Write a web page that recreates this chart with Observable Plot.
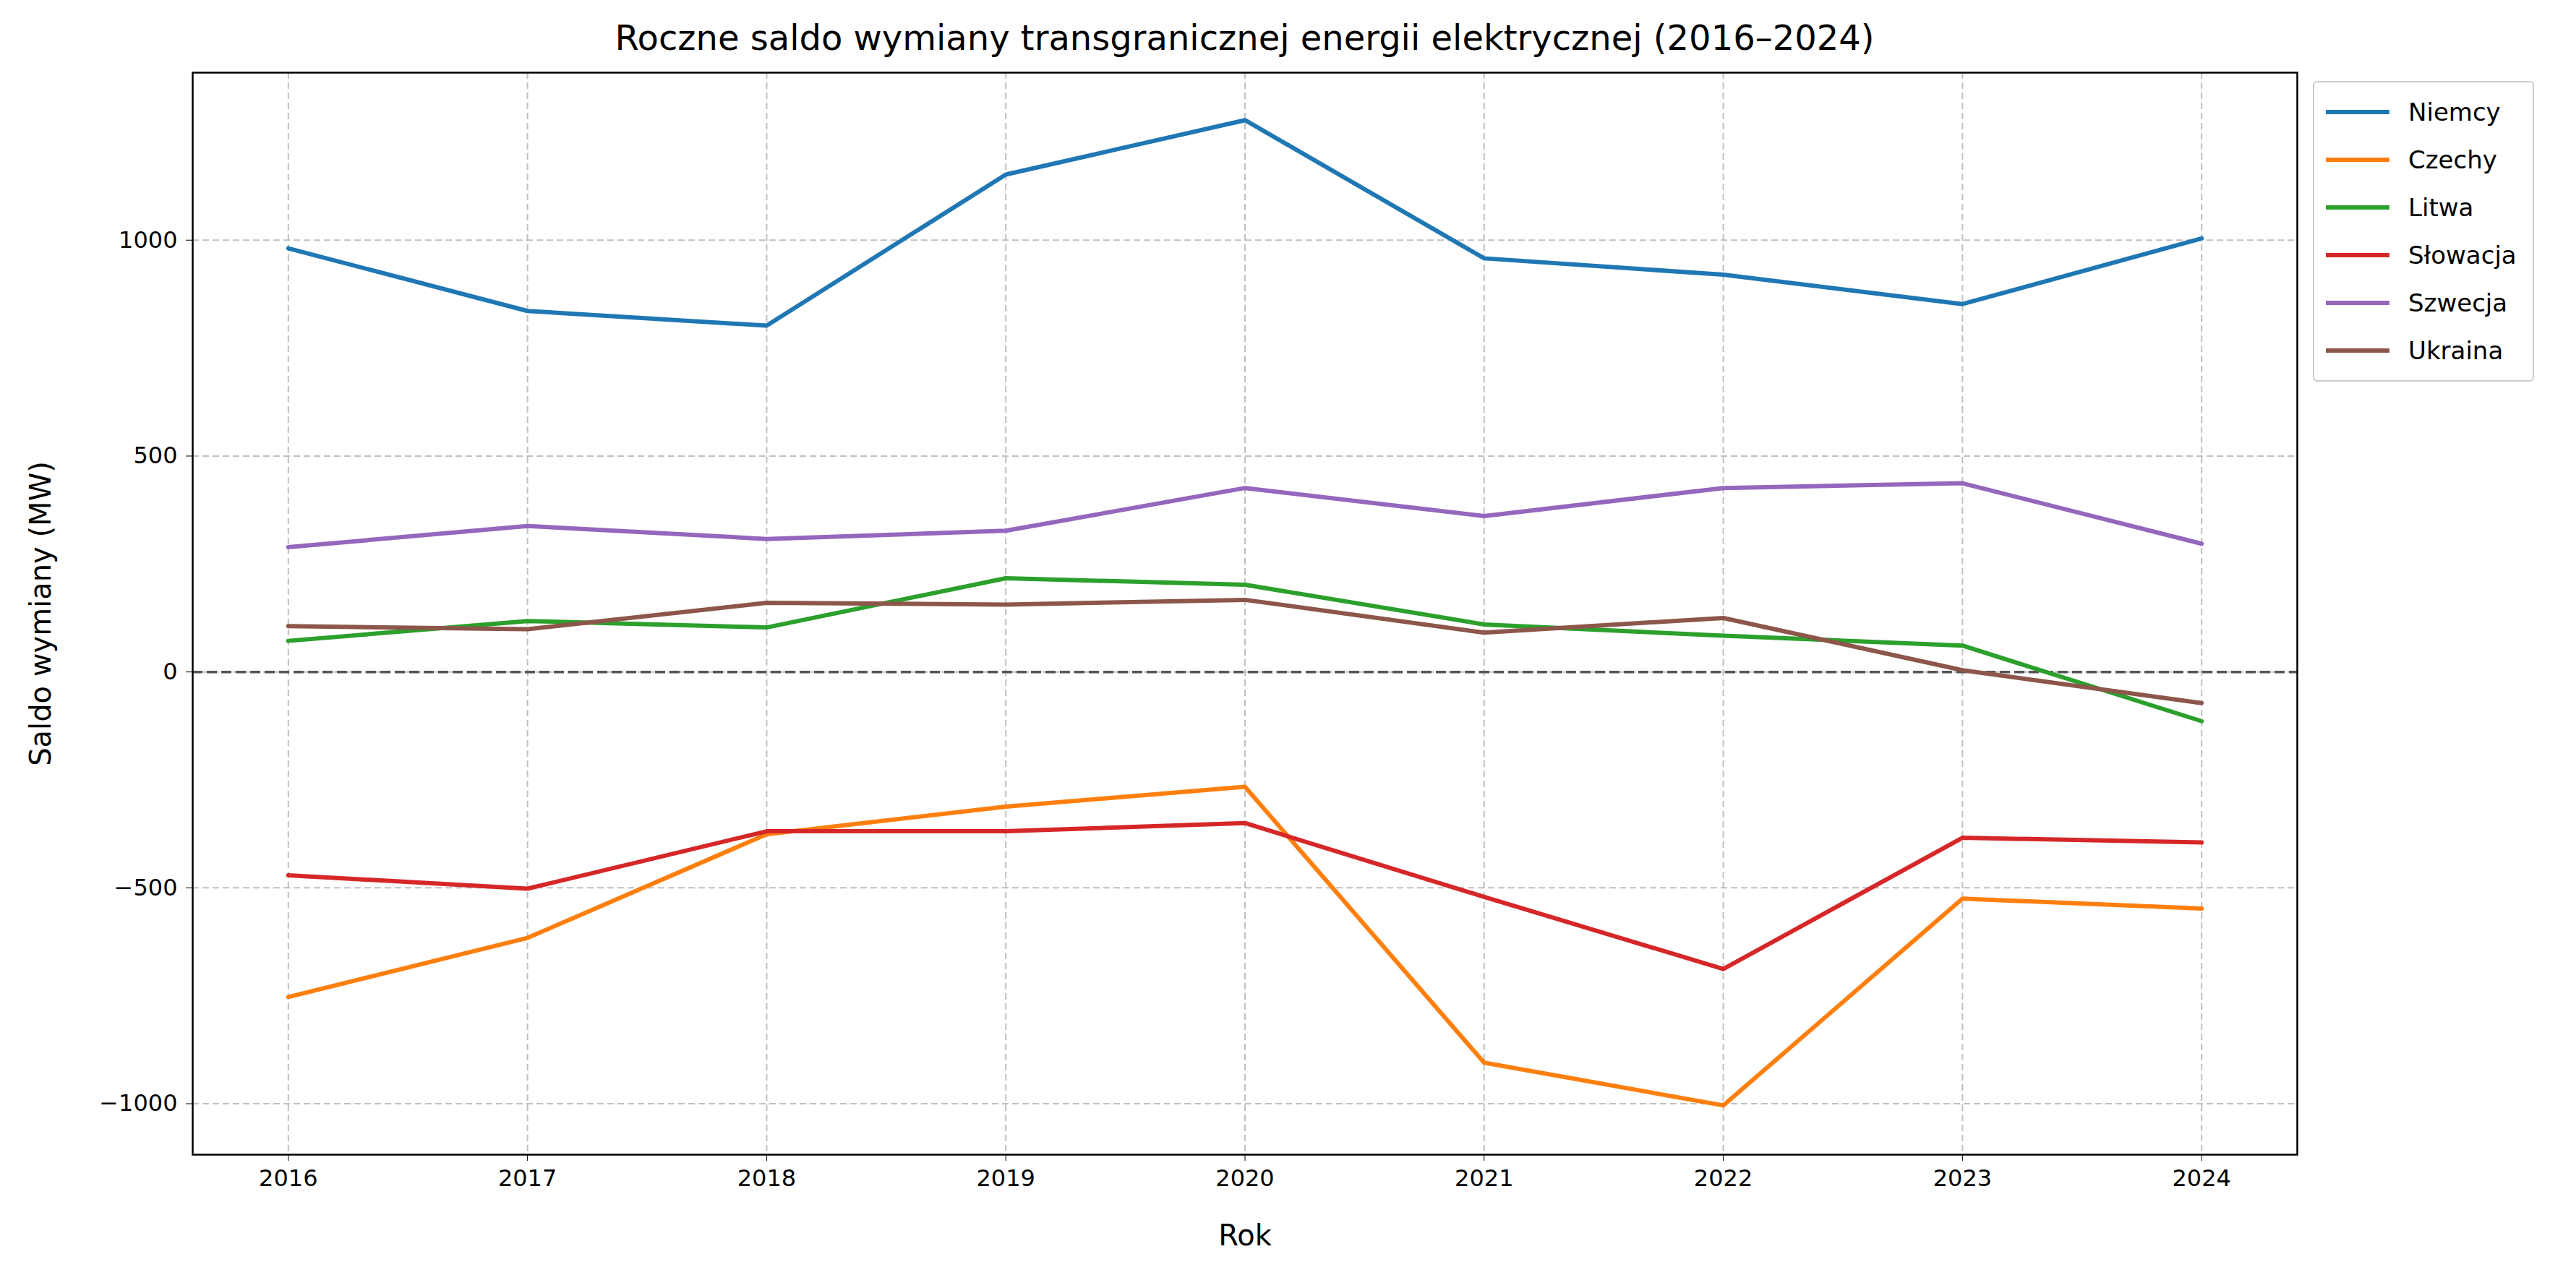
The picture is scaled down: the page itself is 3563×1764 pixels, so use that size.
<!DOCTYPE html>
<html>
<head>
<meta charset="utf-8">
<script src="https://cdn.jsdelivr.net/npm/d3@7"></script>
<script src="https://cdn.jsdelivr.net/npm/@observablehq/plot@0.6"></script>
<style>
  body { margin: 0; background: #fff; font-family: "DejaVu Sans", sans-serif; }
  #wrap { position: relative; width: 3563px; height: 1764px; }
  #title { position: absolute; left: 266px; width: 2911px; top: 24px; text-align: center; font-size: 48px; }
  #legend { position: absolute; left: 3199px; top: 112px; border: 2px solid #ccc; border-radius: 6px; padding: 8px 22px 8px 16px; font-size: 34px; background: #fff; }
  .item { display: flex; align-items: center; height: 66px; }
  .sw { width: 88px; height: 6px; margin-right: 26px; }
  g[aria-label="x-axis label"] text, g[aria-label="y-axis label"] text { font-size: 40px !important; }
  g[aria-label="x-axis tick label"] text, g[aria-label="y-axis tick label"] text { font-size: 32px !important; }
</style>
</head>
<body>
<div id="wrap">
  <div id="chart" style="position:absolute;left:0;top:0"></div>
  <div id="title">Roczne saldo wymiany transgranicznej energii elektrycznej (2016–2024)</div>
  <div id="legend"></div>
</div>
<script>
// lata i kraje
const years = [2016, 2017, 2018, 2019, 2020, 2021, 2022, 2023, 2024];
const countries = ["Niemcy", "Czechy", "Litwa", "Słowacja", "Szwecja", "Ukraina"];
const colors = ["#1f77b4", "#ff7f0e", "#2ca02c", "#d62728", "#9467bd", "#8c564b"];

// saldo w MW
const niemcy   = [981, 836, 802, 1152, 1278, 958, 920, 852, 1004];
const czechy   = [-753, -616, -376, -312, -266, -905, -1004, -525, -548];
const litwa    = [72, 118, 103, 217, 202, 110, 84, 61, -114];
const slowacja = [-471, -502, -369, -369, -350, -521, -688, -384, -395];
const szwecja  = [289, 338, 308, 327, 426, 361, 426, 437, 297];
const ukraina  = [106, 99, 160, 156, 167, 91, 125, 4, -72];

const series = [niemcy, czechy, litwa, slowacja, szwecja, ukraina];
const data = series.flatMap((vals, i) => vals.map((v, j) => ({kraj: countries[i], rok: years[j], mw: v})));
const yTicks = [-1000, -500, 0, 500, 1000];
const fmtY = d => d < 0 ? "−" + Math.abs(d) : String(d);

const chart = Plot.plot({
  width: 3563,
  height: 1764,
  marginLeft: 266,
  marginRight: 386,
  marginTop: 100,
  marginBottom: 167,
  style: {fontFamily: "DejaVu Sans, sans-serif", fontSize: "32px", color: "#000"},
  x: {domain: [2015.6, 2024.4]},
  y: {domain: [-1118, 1388]},
  color: {domain: countries, range: colors},
  marks: [
    Plot.gridX(years, {stroke: "#b0b0b0", strokeOpacity: 0.8, strokeWidth: 2, strokeDasharray: "9,5"}),
    Plot.gridY(yTicks, {stroke: "#b0b0b0", strokeOpacity: 0.8, strokeWidth: 2, strokeDasharray: "9,5"}),
    Plot.ruleY([0], {stroke: "#555", strokeWidth: 3.5, strokeDasharray: "14,6"}),
    Plot.line(data, {x: "rok", y: "mw", z: "kraj", stroke: "kraj", strokeWidth: 6}),
    Plot.frame({stroke: "#000", strokeWidth: 2.5}),
    Plot.axisX({ticks: years, tickFormat: d => String(d), tickSize: 9, tickPadding: 12, label: "Rok", labelAnchor: "center", labelArrow: "none", labelOffset: 125}),
    Plot.axisY({ticks: yTicks, tickFormat: fmtY, tickSize: 9, tickPadding: 12, label: "Saldo wymiany (MW)", labelAnchor: "center", labelArrow: "none", labelOffset: 225})
  ]
});
document.getElementById("chart").append(chart);

const legend = d3.select("#legend");
countries.forEach((c, i) => {
  const it = legend.append("div").attr("class", "item");
  it.append("div").attr("class", "sw").style("background", colors[i]);
  it.append("span").text(c);
});
</script>
</body>
</html>
